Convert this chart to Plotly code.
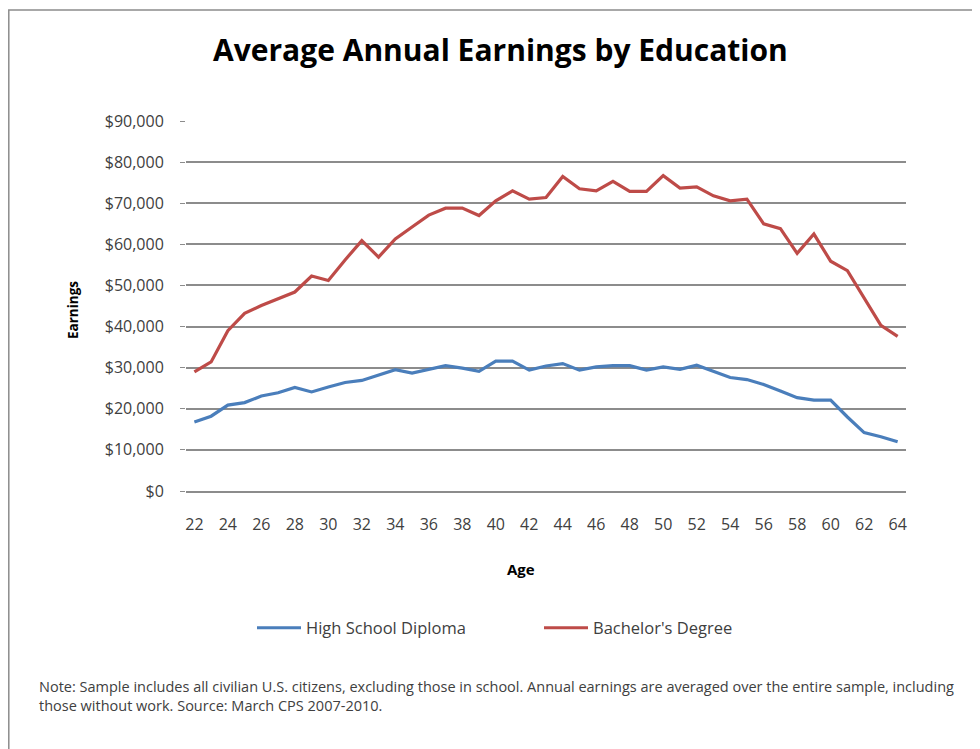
import plotly.graph_objects as go

ages = list(range(22, 65))
high_school = [16800, 18200, 20900, 21500, 23100, 23900, 25200, 24100, 25300, 26400,
               26900, 28200, 29500, 28700, 29700, 30500, 29900, 29100, 31600, 31600,
               29400, 30400, 31000, 29400, 30200, 30500, 30500, 29400, 30200, 29600,
               30600, 29000, 27600, 27100, 25900, 24300, 22700, 22100, 22100, 18000,
               14200, 13200, 12000]
bachelors = [29000, 31400, 39000, 43200, 45100, 46800, 48400, 52300, 51200, 56200,
             60900, 56900, 61300, 64200, 67100, 68800, 68800, 67000, 70600, 73000,
             71000, 71400, 76500, 73500, 73000, 75300, 72900, 72900, 76700, 73700,
             74000, 71800, 70600, 71000, 65000, 63800, 57800, 62500, 55900, 53600,
             46800, 40300, 37600]
x_tick_vals = list(range(22, 65, 2))
y_tick_vals = list(range(0, 90001, 10000))
y_tick_text = ["$0" if v == 0 else "${:,}".format(v) for v in y_tick_vals]

title_text = "Average Annual Earnings by Education"
note_text = ("Note: Sample includes all civilian U.S. citizens, excluding those in school. "
             "Annual earnings are averaged over the entire sample, including<br>"
             "those without work. Source: March CPS 2007-2010.")

FONT = "Open Sans"
OFF = 8  # page body margin
W, H = 972, 741
L, T = 178, 113
PW, PH = 720, 370
R, B = W - L - PW, H - T - PH


def px(xr):
    return (xr - OFF - L) / PW


def py(yr):
    return 1 - (yr - OFF - T) / PH


fig = go.Figure()
fig.add_trace(go.Scatter(x=ages, y=high_school, mode="lines", name="High School Diploma",
                         line=dict(color="#4A7EBB", width=3.2)))
fig.add_trace(go.Scatter(x=ages, y=bachelors, mode="lines", name="Bachelor's Degree",
                         line=dict(color="#BE4B48", width=3.2)))

fig.update_layout(
    width=W, height=H,
    margin=dict(l=L, r=R, t=T, b=B),
    paper_bgcolor="white", plot_bgcolor="white",
    font=dict(family=FONT, color="#404040"),
    showlegend=True,
    legend=dict(orientation="h", x=px(252), y=py(628), xanchor="left", yanchor="middle",
                font=dict(family=FONT, size=16.5, color="#404040"),
                entrywidth=228, entrywidthmode="pixels", itemwidth=44,
                bgcolor="rgba(0,0,0,0)"),
    xaxis=dict(range=[21.5, 64.5], tickvals=x_tick_vals, showgrid=False, zeroline=False,
               showline=True, linecolor="#8c8c8c", linewidth=1.5, ticks="",
               tickfont=dict(family=FONT, size=16, color="#404040"), ticklabelstandoff=18),
    yaxis=dict(range=[0, 90000], tickvals=y_tick_vals, ticktext=y_tick_text,
               showgrid=True, gridcolor="#8c8c8c", gridwidth=1.5, zeroline=False,
               showline=False, ticks="outside", ticklen=5, tickcolor="#8c8c8c",
               tickfont=dict(family=FONT, size=16, color="#404040"), ticklabelstandoff=13),
)

fig.add_annotation(text="<b>" + title_text + "</b>", xref="paper", yref="paper",
                   x=px(500), y=py(50), xanchor="center", yanchor="middle", showarrow=False,
                   font=dict(family=FONT, size=30, color="#000000"))
fig.add_annotation(text="<b>Age</b>", xref="paper", yref="paper",
                   x=px(521), y=py(569), xanchor="center", yanchor="middle", showarrow=False,
                   font=dict(family=FONT, size=15, color="#000000"))
fig.add_annotation(text="<b>Earnings</b>", xref="paper", yref="paper", textangle=-90,
                   x=px(73), y=py(310), xanchor="center", yanchor="middle", showarrow=False,
                   font=dict(family=FONT, size=13.5, color="#000000"))
fig.add_annotation(text=note_text, xref="paper", yref="paper", align="left",
                   x=px(37), y=py(696), xanchor="left", yanchor="middle", showarrow=False,
                   font=dict(family=FONT, size=14.5, color="#404040"))
fig.add_shape(type="rect", xref="paper", yref="paper",
              x0=px(8.8), x1=px(1100), y0=py(900), y1=py(10),
              line=dict(color="#8c8c8c", width=1.5), layer="below")

fig.write_html("out.html")
